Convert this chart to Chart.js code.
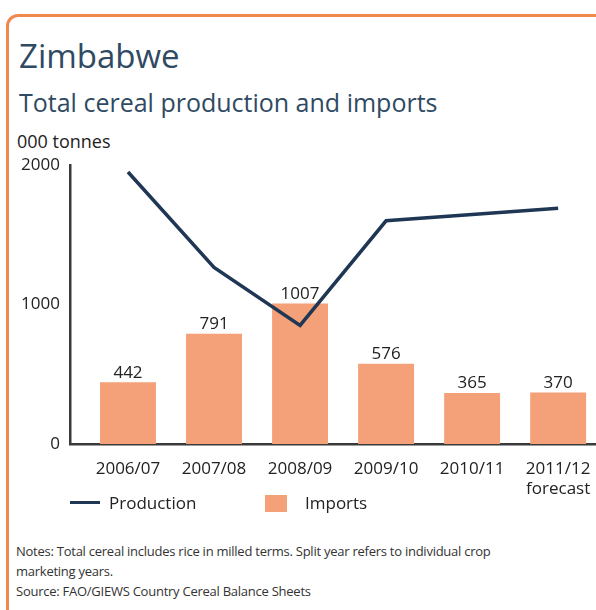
<!DOCTYPE html>
<html>
<head>
<meta charset="utf-8">
<script src="https://cdn.jsdelivr.net/npm/chart.js@4.4.1/dist/chart.umd.min.js"></script>
<style>
  body { margin: 0; background: #fff; font-family: "Open Sans", sans-serif; }
  #page { position: relative; width: 596px; height: 610px; overflow: hidden; }
  #frame {
    position: absolute; left: 6px; top: 14px; width: 620px; height: 620px;
    border: 3px solid #ef8a4e; border-top-left-radius: 12px; box-sizing: border-box;
  }
  .txt { position: absolute; white-space: nowrap; line-height: 1; }
  #title { left: 19px; top: 39px; font-size: 33px; color: #2f4a62; }
  #subtitle { left: 19px; top: 90px; font-size: 25px; color: #2f4a62; }
  #unit { left: 17px; top: 132px; font-size: 18px; color: #222; }
  #chartBox { position: absolute; left: 0; top: 150px; }
  #legLine { position: absolute; left: 70px; top: 501px; width: 30px; height: 3px; background: #1f3654; }
  #legLineTxt { left: 109px; top: 494px; font-size: 17px; color: #222; }
  #legBox { position: absolute; left: 265px; top: 495px; width: 22px; height: 17px; background: #f4a079; }
  #legBoxTxt { left: 305px; top: 494px; font-size: 17px; color: #222; }
  #notes {
    position: absolute; left: 16px; top: 541px; font-size: 13px; line-height: 20px;
    color: #333; letter-spacing: -0.25px;
  }
</style>
</head>
<body>
<div id="page">
  <div id="frame"></div>
  <div id="title" class="txt">Zimbabwe</div>
  <div id="subtitle" class="txt">Total cereal production and imports</div>
  <div id="unit" class="txt">000 tonnes</div>
  <div id="chartBox"><canvas id="chartCereal" width="596" height="350"></canvas></div>
  <div id="legLine"></div>
  <div id="legLineTxt" class="txt">Production</div>
  <div id="legBox"></div>
  <div id="legBoxTxt" class="txt">Imports</div>
  <div id="notes">Notes: Total cereal includes rice in milled terms. Split year refers to individual crop<br>marketing years.<br>Source: FAO/GIEWS Country Cereal Balance Sheets</div>
</div>
<script>
  /* Datos */
  const years = ['2006/07', '2007/08', '2008/09', '2009/10', '2010/11', ['2011/12', 'forecast']];
  const production = [1950, 1265, 850, 1600, 1645, 1690];
  const imports = [442, 791, 1007, 576, 365, 370];
  const yTicks = [0, 1000, 2000];

  const toPoints = (arr) => arr.map((v, i) => ({ x: i, y: v }));

  /* Etiquetas encima de las barras */
  const barLabels = {
    id: 'barLabels',
    afterDatasetsDraw(chart) {
      const meta = chart.getDatasetMeta(1);
      const ctx = chart.ctx;
      ctx.save();
      ctx.font = '17px "Open Sans", sans-serif';
      ctx.fillStyle = '#222';
      ctx.textAlign = 'center';
      ctx.textBaseline = 'bottom';
      meta.data.forEach((bar, i) => {
        ctx.fillText(imports[i].toString(), bar.x, bar.y - 1);
      });
      ctx.restore();
    }
  };

  const ctx = document.getElementById('chartCereal').getContext('2d');
  const myChart = new Chart(ctx, {
    plugins: [barLabels],
    data: {
      datasets: [
        {
          type: 'line',
          label: 'Production',
          data: toPoints(production),
          borderColor: '#1f3654',
          borderWidth: 3.5,
          pointRadius: 0,
          tension: 0,
          order: 1,
        },
        {
          type: 'bar',
          label: 'Imports',
          data: toPoints(imports),
          backgroundColor: '#f4a079',
          barPercentage: 0.65,
          categoryPercentage: 1,
          order: 2,
        },
      ],
    },
    options: {
      responsive: false,
      animation: false,
      layout: { padding: { top: 15, right: 0, left: 0, bottom: 0 } },
      scales: {
        x: {
          type: 'linear',
          offset: false,
          min: -0.674,
          max: 5.44,
          grid: { display: false, drawTicks: false, offset: false },
          border: { display: true, color: '#3a3a3a', width: 2.5 },
          afterBuildTicks: (scale) => {
            scale.ticks = years.map((_, i) => ({ value: i }));
          },
          afterFit: (scale) => {
            scale.height = 56;
            scale.paddingLeft = 0;
            scale.paddingRight = 0;
          },
          ticks: {
            autoSkip: false,
            maxRotation: 0,
            padding: 15,
            color: '#222',
            font: { size: 17, family: '"Open Sans", sans-serif', lineHeight: 1.2 },
            callback: (value) => years[value],
          },
        },
        y: {
          min: 0,
          max: 2000,
          grid: { display: false, drawTicks: false },
          border: { display: true, color: '#3a3a3a', width: 2.5 },
          afterBuildTicks: (scale) => {
            scale.ticks = yTicks.map((v) => ({ value: v }));
          },
          afterFit: (scale) => {
            scale.width = 70;
            scale.paddingTop = 0;
            scale.paddingBottom = 0;
          },
          ticks: {
            padding: 10,
            color: '#222',
            font: { size: 17, family: '"Open Sans", sans-serif' },
            callback: (value) => String(value),
          },
        },
      },
      plugins: {
        legend: { display: false },
        tooltip: { enabled: false },
      },
    },
  });
</script>
</body>
</html>
